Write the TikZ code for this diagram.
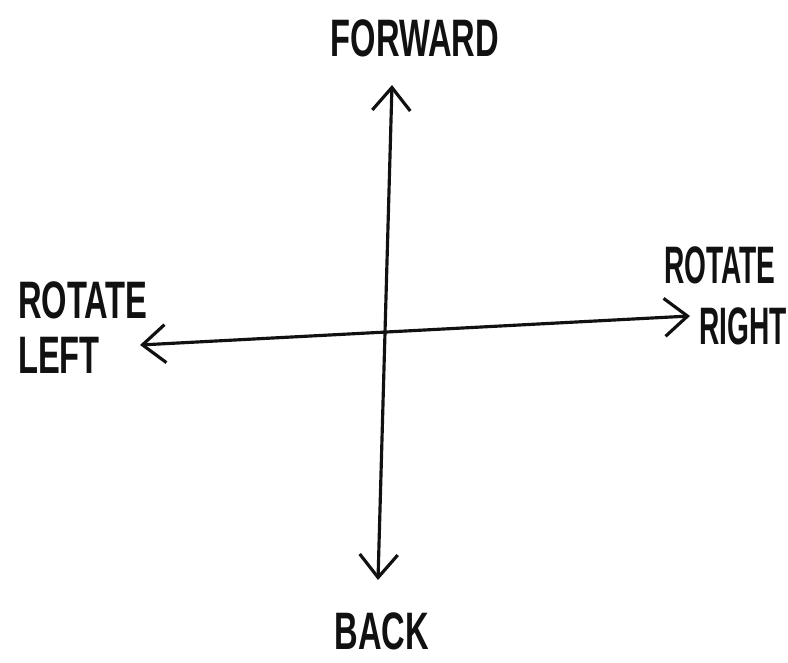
\documentclass[tikz,border=0pt]{standalone}
\usepackage{fontspec}
\setmainfont{Liberation Sans}
\usetikzlibrary{arrows.meta,positioning,calc}
\definecolor{Ink}{HTML}{111111}

\begin{document}
\begin{tikzpicture}[x=1cm,y=1cm,
  axis/.style={Ink,line width=1.8pt,line cap=round,
    {Straight Barb[length=0.46cm,width=0.76cm,line width=1.8pt]}-{Straight Barb[length=0.46cm,width=0.76cm,line width=1.8pt]}},
  word/.style={font=\bfseries\fontsize{30}{30}\selectfont,text=Ink,xscale=0.62,inner sep=0pt}]
\useasboundingbox (0,0) rectangle (15.76,13.24);
% arrow ends
\coordinate (fwdtip) at (7.84,11.54);
\coordinate (backtip) at (7.56,1.64);
\coordinate (lefttip) at (2.80,6.34);
\coordinate (righttip) at (13.80,6.92);
% labels
\node[word] (fwd) at (8.30,12.48) {FORWARD};
\node[word] (back) at (7.64,0.62) {BACK};
\node[word,anchor=west] (rotl) at (0.36,7.24) {ROTATE};
\node[word,anchor=west] (left) at (0.36,6.14) {LEFT};
\node[word,anchor=west,xscale=0.86] (rotr) at (13.28,7.94) {ROTATE};
\node[word,anchor=west,xscale=0.86] (right) at (13.98,6.72) {RIGHT};
% the two axes
\draw[axis] (backtip) -- (fwdtip);
\draw[axis] (lefttip) -- (righttip);
\end{tikzpicture}
\end{document}
